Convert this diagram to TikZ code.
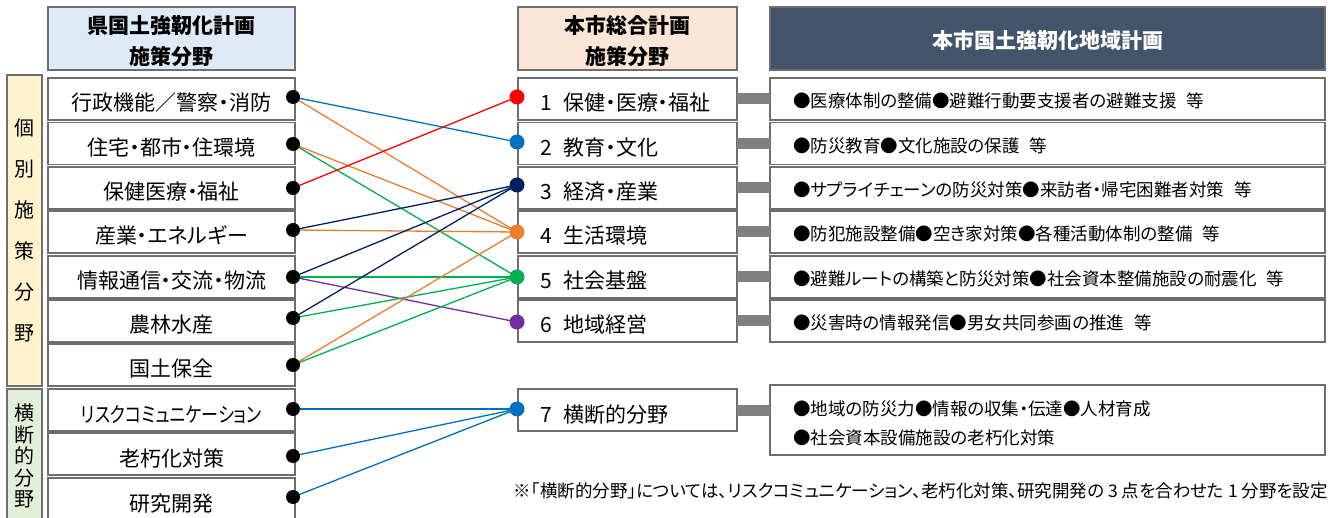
\documentclass[tikz,border=0pt]{standalone}
\usepackage{fontspec}
\setmainfont{Noto Sans CJK JP}[RawFeature=+palt]
\newfontfamily\jpfull{Noto Sans CJK JP}
\newfontfamily\jpnarrow{Noto Sans CJK JP}[RawFeature=+palt, FakeStretch=0.81]
\newcommand\bul{{\jpfull ●}}
\usetikzlibrary{backgrounds}
\definecolor{hdrblue}{HTML}{DEEBF7}
\definecolor{hdrpeach}{HTML}{FBE5D6}
\definecolor{hdrdark}{HTML}{44546A}
\definecolor{sideyellow}{HTML}{FFF2CC}
\definecolor{sidegreen}{HTML}{E2F0D9}
\definecolor{boxgray}{HTML}{6E6E6E}
\definecolor{cred}{HTML}{FF0000}
\definecolor{cblue}{HTML}{0070C0}
\definecolor{cnavy}{HTML}{002060}
\definecolor{corange}{HTML}{ED7D31}
\definecolor{cgreen}{HTML}{00B050}
\definecolor{cpurple}{HTML}{7030A0}
\definecolor{bargray}{HTML}{808080}
\begin{document}
\begin{tikzpicture}[x=1pt,y=-1pt,
  base/.style={draw=boxgray, line width=1.1pt, inner sep=0pt, outer sep=0pt},
  hdr/.style={base, minimum height=63pt},
  hdrtext/.style={inner sep=0pt, align=center, font=\fontsize{21}{31}\selectfont\bfseries},
  lbox/.style={base, fill=white, minimum width=247pt, minimum height=42pt, text height=25pt, text depth=1pt, font=\fontsize{21}{24}\selectfont},
  mbox/.style={base, fill=white, minimum height=42pt, text width=175pt, inner xsep=22pt, text height=25pt, text depth=1pt, align=left, font=\fontsize{21}{24}\selectfont},
  rbox/.style={base, fill=white, minimum height=42pt, text width=509pt, inner xsep=23pt, text height=18.5pt, text depth=1.2pt, align=left, font=\fontsize{17.5}{29}\selectfont},
  rtext/.style={inner sep=0pt, anchor=north west, align=left, font=\fontsize{17.5}{29}\selectfont},
  side/.style={base, minimum width=35pt, align=center, font=\fontsize{20}{41}\selectfont},
  ldot/.style={circle, fill=black, minimum size=14pt, inner sep=0pt},
  rdot/.style={circle, fill=#1, minimum size=15pt, inner sep=0pt},
  link/.style={draw=#1, line width=1.3pt},
  bar/.style={draw=bargray, line width=11pt}
]
\useasboundingbox (0,0) rectangle (1333,518);
% headers
\node[hdr, fill=hdrblue, minimum width=247pt] (h1) at (171.5,38.5) {};
\node[hdr, fill=hdrpeach, minimum width=219pt] (h2) at (627.5,38.5) {};
\node[hdr, fill=hdrdark, minimum width=555pt] (h3) at (1047.5,38.5) {};
\node[hdrtext] (t1) at ([yshift=-3pt]h1.center) {県国土強靭化計画\\施策分野};
\node[hdrtext] (t2) at ([yshift=-3pt]h2.center) {本市総合計画\\施策分野};
\node[hdrtext, text=white] (t3) at ([yshift=-2pt]h3.center) {本市国土強靭化地域計画};
% side labels
\node[side, fill=sideyellow, minimum height=311pt] (s1) at (24.5,230.5) {個\\別\\施\\策\\分\\野};
\node[side, fill=sidegreen, minimum height=134pt, font=\fontsize{20}{21.5}\selectfont] (s2) at (24.5,456) {横\\断\\的\\分\\野};
% left boxes
\node[lbox] (l1) at (171.5,99) {行政機能／警察・消防};
\node[lbox] (l2) at (171.5,143.5) {住宅・都市・住環境};
\node[lbox] (l3) at (171.5,188) {保健医療・福祉};
\node[lbox] (l4) at (171.5,232) {産業・エネルギー};
\node[lbox] (l5) at (171.5,277) {情報通信・交流・物流};
\node[lbox] (l6) at (171.5,321) {農林水産};
\node[lbox] (l7) at (171.5,365) {国土保全};
\node[lbox] (l8) at (171.5,410) {\jpnarrow リスクコミュニケーション};
\node[lbox] (l9) at (171.5,454) {老朽化対策};
\node[lbox] (l10) at (171.5,499) {研究開発};
% middle boxes
\node[mbox] (m1) at (627.5,99) {1\hspace{12pt}保健・医療・福祉};
\node[mbox] (m2) at (627.5,143.5) {2\hspace{12pt}教育・文化};
\node[mbox] (m3) at (627.5,188) {3\hspace{12pt}経済・産業};
\node[mbox] (m4) at (627.5,232) {4\hspace{12pt}生活環境};
\node[mbox] (m5) at (627.5,277) {5\hspace{12pt}社会基盤};
\node[mbox] (m6) at (627.5,321) {6\hspace{12pt}地域経営};
\node[mbox] (m7) at (627.5,410) {7\hspace{12pt}横断的分野};
% right boxes
\node[rbox] (r1) at (1047.5,99) {\bul 医療体制の整備\bul 避難行動要支援者の避難支援\hspace{10pt}等};
\node[rbox] (r2) at (1047.5,143.5) {\bul 防災教育\bul 文化施設の保護\hspace{10pt}等};
\node[rbox] (r3) at (1047.5,188) {\bul サプライチェーンの防災対策\bul 来訪者・帰宅困難者対策\hspace{10pt}等};
\node[rbox] (r4) at (1047.5,232) {\bul 防犯施設整備\bul 空き家対策\bul 各種活動体制の整備\hspace{10pt}等};
\node[rbox] (r5) at (1047.5,277) {\bul 避難ルートの構築と防災対策\bul 社会資本整備施設の耐震化\hspace{10pt}等};
\node[rbox] (r6) at (1047.5,321) {\bul 災害時の情報発信\bul 男女共同参画の推進\hspace{10pt}等};
\node[base, fill=white, minimum width=555pt, minimum height=70pt] (r7) at (1047.5,420) {};
\node[rtext] (r7t) at (793,401) {\bul 地域の防災力\bul 情報の収集・伝達\bul 人材育成\\\bul 社会資本設備施設の老朽化対策};
% bars
\foreach \i in {1,...,6} {\draw[bar] (m\i.east) -- (r\i.west);}
\draw[bar] (m7.east) -- (m7.east -| r7.west);
% dots
\node[ldot] (d1) at (293,97) {};
\node[ldot] (d2) at (293,144) {};
\node[ldot] (d3) at (293,188) {};
\node[ldot] (d4) at (293,230) {};
\node[ldot] (d5) at (293,277) {};
\node[ldot] (d6) at (293,318) {};
\node[ldot] (d7) at (293,365) {};
\node[ldot] (d8) at (293,409) {};
\node[ldot] (d9) at (293,456) {};
\node[ldot] (d10) at (293,497) {};
\node[rdot=cred] (e1) at (517,97) {};
\node[rdot=cblue] (e2) at (517,142) {};
\node[rdot=cnavy] (e3) at (517,185) {};
\node[rdot=corange] (e4) at (517,232) {};
\node[rdot=cgreen] (e5) at (517,277) {};
\node[rdot=cpurple] (e6) at (517,322) {};
\node[rdot=cblue] (e7) at (517,409) {};
% links
\begin{scope}[on background layer]
\draw[link=cblue] (d1.center) -- (e2.center);
\draw[link=corange] (d1.center) -- (e4.center);
\draw[link=corange] (d2.center) -- (e4.center);
\draw[link=cgreen] (d2.center) -- (e5.center);
\draw[link=cred] (d3.center) -- (e1.center);
\draw[link=cnavy] (d4.center) -- (e3.center);
\draw[link=corange] (d4.center) -- (e4.center);
\draw[link=cnavy] (d5.center) -- (e3.center);
\draw[link=cgreen] (d5.center) -- (e5.center);
\draw[link=cpurple] (d5.center) -- (e6.center);
\draw[link=cnavy] (d6.center) -- (e3.center);
\draw[link=cgreen] (d6.center) -- (e5.center);
\draw[link=corange] (d7.center) -- (e4.center);
\draw[link=cgreen] (d7.center) -- (e5.center);
\draw[link=cblue] (d8.center) -- (e7.center);
\draw[link=cblue] (d9.center) -- (e7.center);
\draw[link=cblue] (d10.center) -- (e7.center);
\end{scope}
% note
\node[anchor=east, inner sep=0pt, font=\fontsize{17.5}{20}\selectfont] (note) at (1328,491) {※「横断的分野」については、リスクコミュニケーション、老朽化対策、研究開発の 3 点を合わせた 1 分野を設定};
\end{tikzpicture}
\end{document}
